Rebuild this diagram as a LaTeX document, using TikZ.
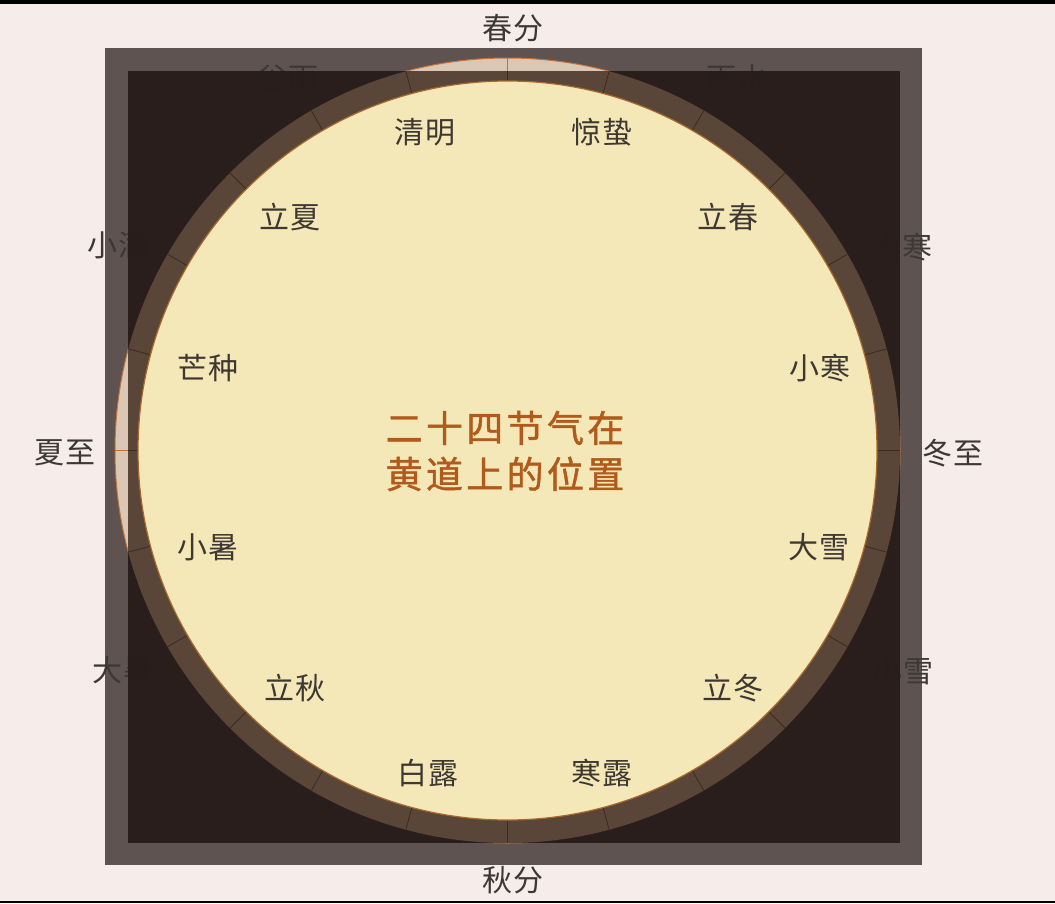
\documentclass[tikz,border=0pt]{standalone}
\usepackage{fontspec}
\newfontfamily\cjk{Noto Sans CJK SC}
\usetikzlibrary{calc}
\definecolor{bgpink}{HTML}{F6EDEB}
\definecolor{framegray}{HTML}{5E5351}
\definecolor{darkveil}{HTML}{281C1A}
\definecolor{tanfill}{HTML}{DCC7B4}
\definecolor{tanedge}{HTML}{C2733C}
\definecolor{ringbrown}{HTML}{5A4638}
\definecolor{tickdark}{HTML}{3A2A22}
\definecolor{creamfill}{HTML}{F5E8B8}
\definecolor{creamedge}{HTML}{A8682E}
\definecolor{labc}{HTML}{3E3833}
\definecolor{titlec}{HTML}{B25A1C}
\begin{document}
\begin{tikzpicture}[x=1pt,y=-1pt,
  lab/.style={font=\cjk\fontsize{30}{30}\selectfont\addfontfeature{LetterSpace=3}, text=labc, inner sep=0pt},
  ttl/.style={font=\cjk\fontsize{37}{46}\selectfont\addfontfeature{LetterSpace=9,FakeBold=1.2}, text=titlec, inner sep=0pt, align=center}]
\useasboundingbox (0,0) rectangle (1055,903);
\fill[bgpink] (0,0) rectangle (1055,903);
\fill[black] (0,0) rectangle (1055,4);
\fill[black] (0,901) rectangle (1055,903);
\fill[framegray] (105,48) rectangle (922,865);
\coordinate (c) at (507.5,450.5);
% outer labels
\node[lab] (chunfen) at (513,28) {春分};
\node[lab] (qiufen) at (513,880) {秋分};
\node[lab] (xiazhi) at (65,453) {夏至};
\node[lab] (dongzhi) at (953,453) {冬至};
\node[lab] (guyu) at (288,78) {谷雨};
\node[lab] (yushui) at (737,78) {雨水};
\node[lab] (xiaoman) at (118,245) {小满};
\node[lab] (dahan) at (902,247) {大寒};
\node[lab] (dashu) at (123,670) {大暑};
\node[lab] (xiaoxue) at (903,671) {小雪};
% outer disc
\fill[tanfill, draw=tanedge, line width=1pt] (c) circle (392.5pt);
\foreach \a in {0,15,...,345}
  \draw[tanedge, line width=0.8pt] ([shift={(\a:369.5pt)}]c) -- ([shift={(\a:392.5pt)}]c);
% dark veil
\fill[darkveil, opacity=0.96] (128,71) rectangle (900,843);
\begin{scope}
  \clip (128,71) rectangle (900,843);
  \fill[ringbrown, even odd rule] (c) circle (392.5pt) (c) circle (369.5pt);
  \foreach \a in {0,15,...,345}
    \draw[tickdark, line width=0.8pt] ([shift={(\a:369.5pt)}]c) -- ([shift={(\a:392.5pt)}]c);
\end{scope}
% inner disc
\fill[creamfill, draw=creamedge, line width=1.2pt] (c) circle (369.5pt);
% inner labels
\node[lab] (qingming) at (425,132) {清明};
\node[lab] (jingzhe) at (602,132) {惊蛰};
\node[lab] (lichun) at (728,217) {立春};
\node[lab] (xiaohan) at (820,368) {小寒};
\node[lab] (daxue) at (819,547) {大雪};
\node[lab] (lidong) at (733,688) {立冬};
\node[lab] (hanlu) at (602,773) {寒露};
\node[lab] (bailu) at (428,773) {白露};
\node[lab] (liqiu) at (295,688) {立秋};
\node[lab] (xiaoshu) at (208,547) {小暑};
\node[lab] (mangzhong) at (208,368) {芒种};
\node[lab] (lixia) at (290,217) {立夏};
% title
\node[ttl] (title) at (505,451) {二十四节气在\\黄道上的位置};
\end{tikzpicture}
\end{document}
